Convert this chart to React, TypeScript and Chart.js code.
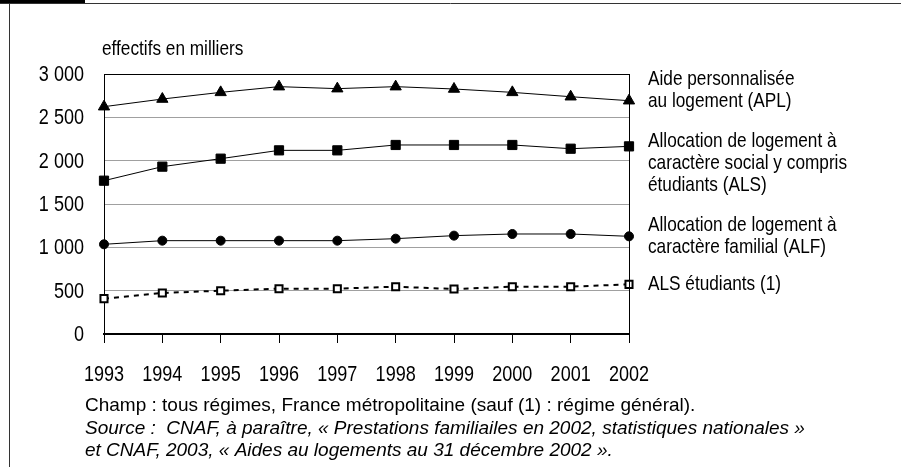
import React, { useEffect, useRef } from 'react';
import { Chart, registerables } from 'chart.js';

Chart.register(...registerables);

const years = ['1993', '1994', '1995', '1996', '1997', '1998', '1999', '2000', '2001', '2002'];
const apl = [2623, 2711, 2788, 2854, 2831, 2854, 2827, 2788, 2738, 2692];
const als = [1769, 1931, 2023, 2119, 2119, 2181, 2181, 2181, 2138, 2165];
const alf = [1035, 1077, 1077, 1077, 1077, 1100, 1135, 1154, 1154, 1127];
const alsEtudiants = [408, 473, 500, 523, 523, 546, 519, 546, 546, 573];

const yTickValues = [0, 500, 1000, 1500, 2000, 2500, 3000];
const yTickLabels = ['0', '500', '1 000', '1 500', '2 000', '2 500', '3 000'];

const unitTitle = 'effectifs en milliers';
const seriesLabels = [
  ['Aide personnalisée', 'au logement (APL)'],
  ['Allocation de logement à', 'caractère social y compris', 'étudiants (ALS)'],
  ['Allocation de logement à', 'caractère familial (ALF)'],
  ['ALS étudiants (1)'],
];
const notes = [
  { text: 'Champ : tous régimes, France métropolitaine (sauf (1) : régime général).', italic: false },
  { text: 'Source :  CNAF, à paraître, « Prestations familiailes en 2002, statistiques nationales »', italic: true },
  { text: 'et CNAF, 2003, « Aides au logements au 31 décembre 2002 ».', italic: true },
];

const REGULAR = '"Liberation Sans", Arial, sans-serif';
const NARROW_SCALE = 0.82;

function narrowText(
  ctx: CanvasRenderingContext2D,
  text: string,
  x: number,
  y: number,
  align: CanvasTextAlign,
  size: number
) {
  ctx.save();
  ctx.translate(x, y);
  ctx.scale(NARROW_SCALE, 1);
  ctx.font = `${size}px ${REGULAR}`;
  ctx.textAlign = align;
  ctx.textBaseline = 'alphabetic';
  ctx.fillStyle = '#000';
  ctx.fillText(text, 0, 0);
  ctx.restore();
}

export default function App() {
  const ref = useRef<HTMLCanvasElement | null>(null);

  useEffect(() => {
    if (!ref.current) return;

    const decor = {
      id: 'decor',
      afterDraw(chart: any) {
        const ctx = chart.ctx as CanvasRenderingContext2D;
        const area = chart.chartArea;
        const xs = chart.scales.x;
        const ys = chart.scales.y;
        ctx.save();
        // frame
        ctx.fillStyle = '#000';
        ctx.fillRect(0, 0, 85, 4);
        ctx.strokeStyle = '#333';
        ctx.lineWidth = 1;
        ctx.beginPath();
        ctx.moveTo(0, 3.5);
        ctx.lineTo(901, 3.5);
        ctx.moveTo(9.5, 3.5);
        ctx.lineTo(9.5, 467);
        ctx.stroke();
        // right border of plot
        ctx.strokeStyle = '#000';
        ctx.beginPath();
        ctx.moveTo(Math.round(area.right) + 0.5, area.top);
        ctx.lineTo(Math.round(area.right) + 0.5, area.bottom);
        ctx.stroke();

        // y tick labels (narrow)
        yTickValues.forEach((v, i) => {
          const py = ys.getPixelForValue(v);
          narrowText(ctx, yTickLabels[i], area.left - 20, py + 7, 'right', 22);
        });
        // x tick labels (narrow)
        years.forEach((lab, i) => {
          const px = xs.getPixelForTick(i);
          narrowText(ctx, lab, px, area.bottom + 47, 'center', 22);
        });

        // unit title
        narrowText(ctx, unitTitle, 102, 55, 'left', 21);
        // series labels
        const baselines = [
          [85, 107],
          [147, 169, 191],
          [231, 253],
          [290],
        ];
        seriesLabels.forEach((lines, i) => {
          lines.forEach((line, j) => {
            narrowText(ctx, line, 648, baselines[i][j], 'left', 21);
          });
        });
        // notes
        const noteBase = [411, 434, 456];
        ctx.fillStyle = '#000';
        ctx.textAlign = 'left';
        ctx.textBaseline = 'alphabetic';
        notes.forEach((n, i) => {
          ctx.font = `${n.italic ? 'italic ' : ''}19px ${REGULAR}`;
          ctx.fillText(n.text, 85, noteBase[i]);
        });
        ctx.restore();
      },
    };

    const chart = new Chart(ref.current, {
      type: 'line',
      data: {
        labels: years,
        datasets: [
          {
            label: 'APL',
            data: apl,
            borderColor: '#000',
            borderWidth: 1,
            pointStyle: 'triangle',
            pointRadius: 6.5,
            pointBackgroundColor: '#000',
            pointBorderColor: '#000',
            pointBorderWidth: 1,
            clip: false as any,
          },
          {
            label: 'ALS',
            data: als,
            borderColor: '#000',
            borderWidth: 1,
            pointStyle: 'rect',
            pointRadius: 6.5,
            pointBackgroundColor: '#000',
            pointBorderColor: '#000',
            pointBorderWidth: 1,
            clip: false as any,
          },
          {
            label: 'ALF',
            data: alf,
            borderColor: '#000',
            borderWidth: 1,
            pointStyle: 'circle',
            pointRadius: 4.5,
            pointBackgroundColor: '#000',
            pointBorderColor: '#000',
            pointBorderWidth: 1,
            clip: false as any,
          },
          {
            label: 'ALS étudiants',
            data: alsEtudiants,
            borderColor: '#000',
            borderWidth: 2,
            borderDash: [5, 5],
            pointStyle: 'rect',
            pointRadius: 5,
            pointBackgroundColor: '#fff',
            pointBorderColor: '#000',
            pointBorderWidth: 2,
            clip: false as any,
          },
        ],
      },
      options: {
        animation: false,
        responsive: false,
        devicePixelRatio: 1,
        layout: { padding: { left: 10, right: 272, top: 74, bottom: 0 } },
        plugins: {
          legend: { display: false },
          tooltip: { enabled: false },
          title: { display: false },
        },
        elements: { line: { tension: 0 } },
        scales: {
          x: {
            type: 'category',
            offset: false,
            afterFit: (s: any) => {
              s.height = 133;
            },
            grid: {
              drawOnChartArea: false,
              drawTicks: true,
              tickLength: 9,
              color: '#000',
              lineWidth: 1,
            },
            border: { display: true, color: '#000', width: 2 },
            ticks: {
              display: false,
              autoSkip: false,
              maxRotation: 0,
            },
          },
          y: {
            min: 0,
            max: 3000,
            afterFit: (s: any) => {
              s.width = 94;
            },
            afterBuildTicks: (s: any) => {
              s.ticks = yTickValues.map((v) => ({ value: v }));
            },
            grid: {
              drawTicks: false,
              color: (c: any) => (c.tick && c.tick.value === 3000 ? '#000' : '#a0a0a0'),
              lineWidth: 1,
            },
            border: { display: true, color: '#000', width: 1 },
            ticks: {
              display: false,
            },
          },
        },
      },
      plugins: [decor],
    });

    return () => chart.destroy();
  }, []);

  return (
    <div style={{ position: 'fixed', left: 0, top: 0, width: 901, height: 467, background: '#fff' }}>
      <canvas ref={ref} width={901} height={467} style={{ width: 901, height: 467, display: 'block' }} />
    </div>
  );
}
